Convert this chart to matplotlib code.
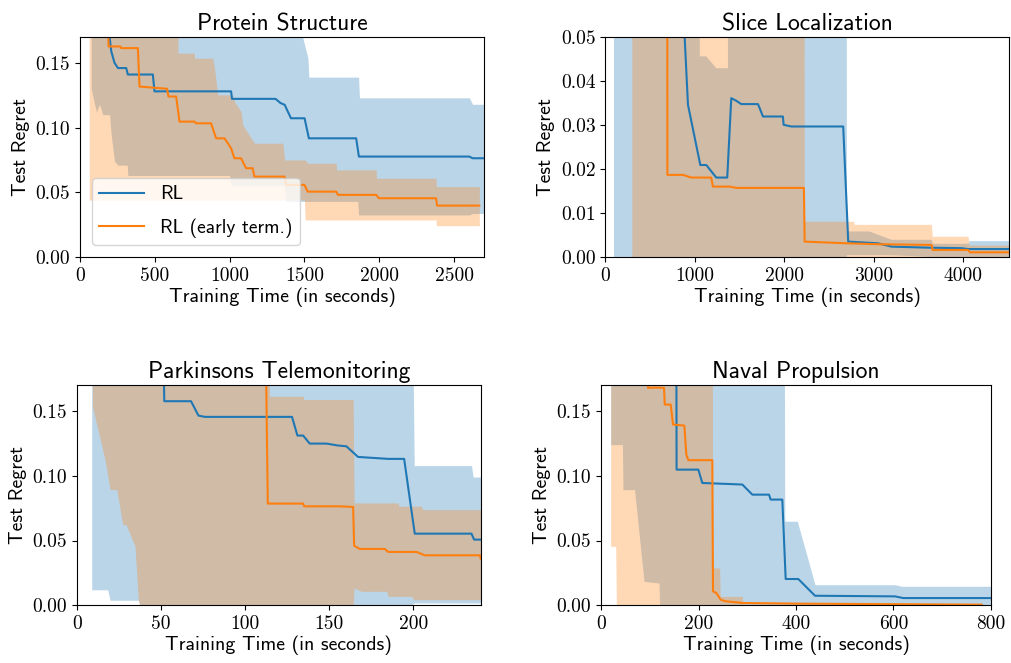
import matplotlib
matplotlib.use('Agg')
import matplotlib.pyplot as plt
from matplotlib.ticker import FormatStrFormatter

# ---- Protein Structure ----
prot_rl_x = [185, 198, 209, 231, 254, 309, 320, 487, 498, 1010, 1016, 1307, 1340, 1368, 1410, 1501, 1530, 1846, 1864, 2602, 2624, 2700]
prot_rl_y = [0.20, 0.17, 0.159, 0.150, 0.146, 0.146, 0.141, 0.141, 0.128, 0.128, 0.1222, 0.1222, 0.119, 0.1176, 0.1072, 0.1072, 0.0917, 0.0917, 0.0776, 0.0776, 0.0763, 0.0763]
prot_et_x = [185, 191, 270, 275, 387, 398, 582, 591, 643, 665, 765, 776, 876, 910, 966, 1010, 1032, 1077, 1110, 1154, 1166, 1367, 1378, 1500, 1522, 1713, 1724, 1980, 1997, 2380, 2387, 2669]
prot_et_y = [0.20, 0.1627, 0.1627, 0.1614, 0.1614, 0.1317, 0.130, 0.124, 0.124, 0.1046, 0.1046, 0.1033, 0.1033, 0.0917, 0.0917, 0.084, 0.0763, 0.0763, 0.0686, 0.0686, 0.0621, 0.0621, 0.0557, 0.0557, 0.0505, 0.0505, 0.048, 0.048, 0.0454, 0.0454, 0.0397, 0.0397]
prot_rl_bx = [75, 110, 130, 153, 198, 209, 231, 254, 316, 320, 1000, 1010, 1367, 1375, 1480, 1490, 1523, 1530, 1857, 1862, 1868, 2602, 2624, 2700]
prot_rl_lo = [0.130, 0.112, 0.118, 0.110, 0.110, 0.094, 0.074, 0.071, 0.071, 0.063, 0.063, 0.055, 0.055, 0.043, 0.043, 0.043, 0.043, 0.043, 0.043, 0.0325, 0.0325, 0.0325, 0.0336, 0.0336]
prot_rl_hi = [0.3]*15 + [0.169, 0.154, 0.139, 0.139, 0.139, 0.123, 0.123, 0.118, 0.118]
prot_et_bx = [62, 654, 655, 765, 766, 887, 899, 921, 1021, 1032, 1077, 1088, 1166, 1355, 1368, 1500, 1505, 1523, 1713, 1714, 1980, 1981, 2380, 2381, 2669]
prot_et_lo = [0.044]*16 + [0.0286]*7 + [0.0242]*2
prot_et_hi = [0.3, 0.3, 0.1575, 0.1575, 0.1536, 0.1536, 0.146, 0.1253, 0.1253, 0.120, 0.1124, 0.102, 0.0879, 0.0879, 0.075, 0.075, 0.075, 0.0724, 0.0724, 0.0673, 0.0673, 0.0608, 0.0608, 0.0544, 0.0544]

# ---- Slice Localization ----
slice_rl_x = [877, 887, 924, 1062, 1129, 1240, 1363, 1408, 1464, 1520, 1706, 1725, 1762, 1985, 1993, 2078, 2659, 2715, 3050, 3200, 3647, 3982, 4056, 4520]
slice_rl_y = [0.06, 0.05, 0.0346, 0.0209, 0.0209, 0.01805, 0.01805, 0.0361, 0.0355, 0.03475, 0.03475, 0.03384, 0.03193, 0.03193, 0.03004, 0.02966, 0.02966, 0.00349, 0.0031, 0.00235, 0.0021, 0.0020, 0.0018, 0.0018]
slice_et_x = [693, 694, 868, 961, 1184, 1203, 1390, 1464, 2220, 2228, 2715, 3050, 3647, 3658, 4056, 4075, 4520]
slice_et_y = [0.06, 0.01866, 0.01866, 0.01805, 0.01805, 0.016, 0.016, 0.0157, 0.0157, 0.00349, 0.0031, 0.0029, 0.00273, 0.0016, 0.0016, 0.00106, 0.00106]
slice_rl_bx = [97, 1054, 1056, 1129, 1241, 1371, 1372, 2697, 2700, 2950, 3200, 3650, 3660, 4060, 4070, 4520]
slice_rl_lo = [0, 0, 0, 0, 0, 0, 0, 0, 0.0004, 0.0004, 0.0004, 0, 0, 0, 0, 0]
slice_rl_hi = [0.3, 0.3, 0.0456, 0.0456, 0.0429, 0.0429, 0.3, 0.3, 0.0058, 0.0058, 0.0039, 0.0039, 0.0030, 0.0030, 0.0036, 0.0036]
slice_et_bx = [302, 2220, 2229, 2780, 2790, 3650, 3660, 4060, 4070, 4520]
slice_et_lo = [0]*10
slice_et_hi = [0.3, 0.3, 0.0080, 0.0080, 0.0073, 0.0073, 0.0046, 0.0046, 0.0026, 0.0026]

# ---- Parkinsons Telemonitoring ----
park_rl_x = [51.5, 52, 67.9, 72.3, 76.2, 127.9, 131.1, 134.5, 138.4, 148.3, 155.3, 160.2, 167.1, 185, 194.5, 200.8, 234.5, 236.1, 239.5, 240]
park_rl_y = [0.2, 0.1575, 0.1575, 0.1464, 0.1454, 0.1454, 0.131, 0.131, 0.1248, 0.1248, 0.1233, 0.1227, 0.1145, 0.113, 0.113, 0.0553, 0.0553, 0.0507, 0.0507, 0.0507]
park_et_x = [112.3, 113.5, 134.5, 135.1, 156.3, 164.2, 164.8, 168.1, 183, 185, 201.8, 206.8, 239.5, 240]
park_et_y = [0.2, 0.0785, 0.0785, 0.0764, 0.0764, 0.0759, 0.046, 0.0435, 0.0435, 0.0412, 0.0412, 0.0386, 0.0386, 0.036]
park_rl_bx = [8.9, 18.4, 19.8, 36.6, 37.5, 198.8, 200.5, 234.5, 235.5, 240]
park_rl_lo = [0.012, 0.012, 0.0039, 0.0039, 0.0, 0.0, 0.0018, 0.0018, 0.0018, 0.0018]
park_rl_hi = [0.3, 0.3, 0.3, 0.3, 0.3, 0.3, 0.1078, 0.1078, 0.099, 0.099]
park_et_bx = [9.3, 16.8, 19.8, 23.8, 27.3, 29.3, 34.6, 36.6, 37.5, 113.9, 114.5, 134.5, 135.0, 164.2, 164.8, 169.0, 184.0, 185.0, 190.9, 191.5, 199.0, 200.0, 204.8, 205.5, 240.0]
park_et_lo = [0.1536, 0.1124, 0.0893, 0.0893, 0.0623, 0.0623, 0.0456, 0.0039, 0, 0, 0, 0, 0, 0, 0.0134, 0.0108, 0.0108, 0.0069, 0.0069, 0.0069, 0.0069, 0.0043, 0.0043, 0.0043, 0.0043]
park_et_hi = [0.3]*10 + [0.1613, 0.1613, 0.1588, 0.1588, 0.079, 0.079, 0.079, 0.079, 0.079, 0.0764, 0.0764, 0.0764, 0.0764, 0.0738, 0.0738]

# ---- Naval Propulsion ----
naval_rl_x = [154.5, 155, 199.6, 207.8, 289.9, 310.4, 344.6, 348, 371.9, 378.8, 404.7, 439, 603, 620, 800]
naval_rl_y = [0.2, 0.1047, 0.1047, 0.0944, 0.0932, 0.0854, 0.0854, 0.0816, 0.0816, 0.0203, 0.0203, 0.0074, 0.0069, 0.0056, 0.0056]
naval_et_x = [95, 96.4, 112.2, 129.2, 130.7, 143, 147.7, 170.9, 175, 179.1, 228.3, 229.7, 236.5, 245.5, 255.8, 289.9, 406, 781]
naval_et_y = [0.2, 0.1678, 0.168, 0.1678, 0.1549, 0.1549, 0.1395, 0.1387, 0.1163, 0.112, 0.112, 0.0108, 0.0095, 0.0043, 0.0031, 0.0018, 0.0013, 0.0005]
naval_rl_bx = [19.8, 43.8, 45.1, 68.7, 88.2, 119, 120, 375.4, 377, 402.7, 439, 603, 617, 800]
naval_rl_lo = [0.124, 0.124, 0.0893, 0.0893, 0.0185, 0.0172, 0, 0, 0, 0, 0, 0, 0, 0]
naval_rl_hi = [0.3]*8 + [0.0649, 0.0649, 0.0159, 0.0159, 0.0147, 0.0147]
naval_et_bx = [19.8, 30.1, 31.5, 228, 229, 243.4, 244.5, 289.9, 291, 781]
naval_et_lo = [0.0455, 0.0455, 0, 0, 0, 0, 0, 0, 0, 0]
naval_et_hi = [0.3, 0.3, 0.3, 0.3, 0.0288, 0.0288, 0.0069, 0.0069, 0.001, 0.001]

titles = ['Protein Structure', 'Slice Localization', 'Parkinsons Telemonitoring', 'Naval Propulsion']
xlims = [2700, 4515, 240, 800]
ylims = [0.17, 0.05, 0.17, 0.17]
xticks = [[0, 500, 1000, 1500, 2000, 2500], [0, 1000, 2000, 3000, 4000], [0, 50, 100, 150, 200], [0, 200, 400, 600, 800]]
yticks = [[0, 0.05, 0.10, 0.15], [0, 0.01, 0.02, 0.03, 0.04, 0.05], [0, 0.05, 0.10, 0.15], [0, 0.05, 0.10, 0.15]]

plt.rcParams['axes.unicode_minus'] = False
SANS = 'cmss10'; SERIF = 'cmr10'
C_RL, C_ET = '#1f77b4', '#ff7f0e'

fig = plt.figure(figsize=(10.11, 6.63), dpi=100)
rects = [[0.0791, 0.6124, 0.3996, 0.3318], [0.5987, 0.6124, 0.3996, 0.3318],
         [0.0759, 0.0870, 0.3996, 0.3323], [0.5945, 0.0870, 0.3857, 0.3323]]
data = [
    (prot_rl_x, prot_rl_y, prot_et_x, prot_et_y, prot_rl_bx, prot_rl_lo, prot_rl_hi, prot_et_bx, prot_et_lo, prot_et_hi),
    (slice_rl_x, slice_rl_y, slice_et_x, slice_et_y, slice_rl_bx, slice_rl_lo, slice_rl_hi, slice_et_bx, slice_et_lo, slice_et_hi),
    (park_rl_x, park_rl_y, park_et_x, park_et_y, park_rl_bx, park_rl_lo, park_rl_hi, park_et_bx, park_et_lo, park_et_hi),
    (naval_rl_x, naval_rl_y, naval_et_x, naval_et_y, naval_rl_bx, naval_rl_lo, naval_rl_hi, naval_et_bx, naval_et_lo, naval_et_hi),
]
for i, (rx, ry, ex, ey, rbx, rlo, rhi, ebx, elo, ehi) in enumerate(data):
    ax = fig.add_axes(rects[i])
    ax.fill_between(rbx, rlo, rhi, color=C_RL, alpha=0.3, lw=0)
    ax.fill_between(ebx, elo, ehi, color=C_ET, alpha=0.3, lw=0)
    ax.plot(rx, ry, color=C_RL, lw=1.5, label='RL')
    ax.plot(ex, ey, color=C_ET, lw=1.5, label='RL (early term.)')
    ax.set_xlim(0, xlims[i]); ax.set_ylim(0, ylims[i])
    ax.set_xticks(xticks[i]); ax.set_yticks(yticks[i])
    ax.yaxis.set_major_formatter(FormatStrFormatter('%.2f'))
    for t in ax.get_xticklabels() + ax.get_yticklabels():
        t.set_fontfamily(SERIF); t.set_fontsize(14)
    ax.set_title(titles[i], fontfamily=SANS, fontsize=17, pad=5)
    ax.set_xlabel('Training Time (in seconds)', fontfamily=SANS, fontsize=14.3, labelpad=2)
    ax.set_ylabel('Test Regret', fontfamily=SANS, fontsize=14.3, labelpad=4)
    if i == 0:
        ax.legend(loc='lower left', prop={'family': SANS, 'size': 14}, handlelength=2.3,
                  labelspacing=0.75, borderaxespad=0.6)
fig.savefig('out.png', dpi=100)
